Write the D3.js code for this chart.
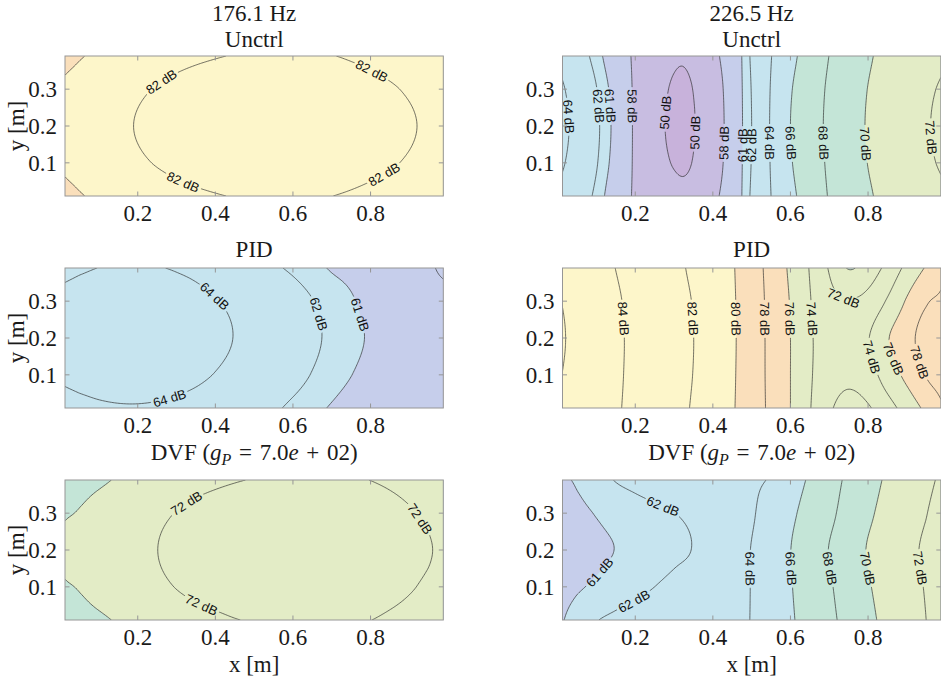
<!DOCTYPE html>
<html>
<head>
<meta charset="utf-8">
<script src="https://cdn.jsdelivr.net/npm/d3@7"></script>
<style>
  body { margin: 0; background: #fff; }
  .serif { font-family: "Liberation Serif", "Times New Roman", serif; font-size: 23px; fill: #1a1a1a; }
  .clabel { font-family: "Liberation Sans", Arial, sans-serif; font-size: 13px; fill: #111; }
</style>
</head>
<body>
<div id="chart"></div>
<script>
// Measurement grid: columns (x in m) and rows (y in m, top to bottom)
const xCols = [0.0125, 0.05, 0.10, 0.15, 0.20, 0.25, 0.30, 0.35, 0.40, 0.45, 0.50,
               0.55, 0.60, 0.65, 0.70, 0.75, 0.80, 0.85, 0.90, 0.95, 0.9875];
const yRows = [0.39, 0.3, 0.2, 0.1, 0.01];

// SPL maps in dB, one row per yRows entry
const unctrl176 = [
  [79.54, 79.89, 80.32, 80.71, 81.05, 81.34, 81.59, 81.78, 81.93, 82.05, 82.14, 82.18, 82.17, 82.12, 82.03, 81.88, 81.68, 81.43, 81.13, 80.80, 80.52],
  [80.28, 80.63, 81.06, 81.45, 81.79, 82.08, 82.33, 82.54, 82.70, 82.82, 82.89, 82.92, 82.90, 82.84, 82.73, 82.58, 82.38, 82.14, 81.85, 81.52, 81.24],
  [80.56, 80.92, 81.35, 81.73, 82.07, 82.37, 82.62, 82.82, 82.99, 83.10, 83.17, 83.20, 83.18, 83.12, 83.01, 82.86, 82.66, 82.42, 82.13, 81.80, 81.52],
  [80.28, 80.63, 81.06, 81.45, 81.79, 82.08, 82.33, 82.54, 82.70, 82.82, 82.89, 82.92, 82.90, 82.84, 82.73, 82.58, 82.38, 82.14, 81.85, 81.52, 81.24],
  [79.54, 79.89, 80.32, 80.71, 81.05, 81.34, 81.59, 81.78, 81.93, 82.05, 82.14, 82.18, 82.17, 82.12, 82.01, 81.86, 81.66, 81.42, 81.12, 80.80, 80.52]
];
const unctrl226 = [
  [63.50, 62.70, 61.50, 59.70, 57.30, 52.60, 50.40, 51.20, 56.80, 59.70, 62.20, 63.95, 65.50, 66.84, 68.02, 68.90, 69.80, 70.45, 70.95, 71.40, 71.70],
  [64.15, 63.26, 62.04, 60.24, 57.37, 51.80, 49.68, 50.12, 55.72, 59.63, 62.06, 64.09, 65.86, 67.10, 68.24, 69.16, 70.03, 70.63, 71.19, 71.73, 72.13],
  [64.40, 63.48, 62.25, 60.45, 57.40, 51.50, 49.40, 49.70, 55.30, 59.60, 62.00, 64.15, 66.00, 67.20, 68.33, 69.26, 70.12, 70.70, 71.28, 71.86, 72.29],
  [64.15, 63.28, 62.10, 60.27, 57.40, 51.92, 49.82, 50.23, 55.74, 59.63, 62.06, 64.10, 65.85, 67.10, 68.25, 69.17, 70.03, 70.63, 71.19, 71.73, 72.13],
  [63.50, 62.75, 61.70, 59.80, 57.40, 53.00, 50.90, 51.60, 56.90, 59.70, 62.20, 64.00, 65.55, 66.90, 68.10, 68.95, 69.80, 70.45, 70.95, 71.40, 71.70]
];
const pid176 = [
  [63.75, 63.88, 64.01, 64.08, 64.09, 64.04, 63.93, 63.76, 63.47, 63.13, 62.72, 62.20, 61.80, 61.35, 60.90, 60.70, 60.50, 60.35, 60.22, 60.08, 59.90],
  [64.28, 64.41, 64.54, 64.61, 64.62, 64.57, 64.46, 64.29, 64.06, 63.77, 63.41, 63.01, 62.56, 62.04, 61.55, 61.10, 60.70, 60.45, 60.28, 60.17, 60.17],
  [64.46, 64.59, 64.72, 64.79, 64.80, 64.75, 64.64, 64.47, 64.25, 63.97, 63.62, 63.22, 62.77, 62.25, 61.75, 61.30, 60.88, 60.60, 60.40, 60.25, 60.18],
  [64.19, 64.32, 64.45, 64.52, 64.53, 64.48, 64.37, 64.20, 63.96, 63.67, 63.31, 62.91, 62.46, 61.94, 61.45, 61.02, 60.65, 60.42, 60.27, 60.15, 60.10],
  [63.58, 63.71, 63.84, 63.91, 63.92, 63.87, 63.76, 63.59, 63.33, 63.02, 62.62, 62.20, 61.75, 61.30, 60.90, 60.55, 60.30, 60.20, 60.12, 60.08, 60.05]
];
const pid226 = [
  [85.60, 85.20, 84.57, 83.98, 83.44, 82.90, 82.36, 81.73, 80.94, 80.14, 78.86, 77.37, 75.68, 73.90, 71.85, 69.90, 70.90, 72.54, 74.50, 76.17, 77.50],
  [85.96, 85.50, 84.84, 84.19, 83.61, 83.06, 82.50, 81.93, 81.07, 80.20, 78.94, 77.49, 75.90, 74.10, 72.60, 72.10, 72.60, 74.20, 76.20, 77.80, 78.30],
  [86.10, 85.62, 84.95, 84.27, 83.67, 83.12, 82.56, 82.01, 81.12, 80.23, 78.97, 77.54, 76.00, 74.21, 73.30, 72.90, 73.90, 75.85, 77.33, 78.80, 79.60],
  [85.98, 85.50, 84.88, 84.24, 83.65, 83.10, 82.53, 81.97, 81.10, 80.20, 78.96, 77.55, 76.00, 74.20, 73.00, 72.50, 73.20, 74.90, 76.50, 78.10, 78.80],
  [85.70, 85.25, 84.72, 84.17, 83.60, 83.04, 82.47, 81.86, 81.00, 80.15, 78.95, 77.59, 76.00, 74.10, 72.30, 71.20, 71.80, 73.25, 74.79, 76.43, 77.70]
];
const dvf176 = [
  [69.04, 69.43, 69.75, 70.15, 70.60, 71.00, 71.35, 71.60, 71.78, 71.93, 72.05, 72.14, 72.19, 72.20, 72.17, 72.10, 71.99, 71.83, 71.62, 71.35, 71.12],
  [69.90, 70.09, 70.57, 71.00, 71.39, 71.74, 72.04, 72.29, 72.50, 72.67, 72.78, 72.86, 72.89, 72.87, 72.81, 72.70, 72.55, 72.35, 72.10, 71.82, 71.57],
  [70.15, 70.40, 70.82, 71.26, 71.65, 71.99, 72.29, 72.55, 72.76, 72.92, 73.04, 73.11, 73.14, 73.12, 73.06, 72.95, 72.80, 72.60, 72.36, 72.07, 71.82],
  [69.90, 70.09, 70.57, 71.00, 71.39, 71.74, 72.04, 72.29, 72.50, 72.67, 72.78, 72.86, 72.89, 72.87, 72.81, 72.70, 72.55, 72.35, 72.10, 71.82, 71.57],
  [69.04, 69.43, 69.75, 70.15, 70.60, 71.00, 71.35, 71.60, 71.78, 71.96, 72.08, 72.16, 72.20, 72.21, 72.18, 72.11, 72.01, 71.83, 71.62, 71.35, 71.12]
];
const dvf226 = [
  [60.90, 61.10, 61.60, 62.05, 62.30, 62.55, 62.80, 63.05, 63.30, 63.55, 63.80, 64.15, 65.30, 66.20, 67.28, 68.35, 69.33, 70.24, 70.94, 71.65, 72.20],
  [60.65, 60.80, 61.05, 61.35, 61.60, 61.80, 61.98, 62.30, 63.00, 63.60, 63.85, 64.80, 65.70, 66.60, 67.60, 68.70, 69.70, 70.55, 71.20, 71.95, 72.50],
  [60.50, 60.65, 60.83, 61.02, 61.28, 61.54, 61.80, 62.05, 62.75, 63.40, 64.05, 65.00, 65.98, 67.00, 68.05, 69.10, 70.10, 70.85, 71.55, 72.25, 72.75],
  [60.70, 60.90, 61.15, 61.45, 61.70, 62.00, 62.30, 62.60, 63.05, 63.55, 64.05, 65.00, 65.90, 66.85, 67.80, 68.85, 69.85, 70.65, 71.40, 72.10, 72.65],
  [60.95, 61.40, 61.95, 62.24, 62.50, 62.76, 63.02, 63.28, 63.54, 63.80, 64.05, 65.00, 65.80, 66.70, 67.60, 68.60, 69.60, 70.46, 71.25, 72.00, 72.60]
];

// Contour line levels per map
const levelsUnctrl176 = [80, 82];
const levelsUnctrl226 = [50, 58, 61, 62, 64, 66, 68, 70, 72];
const levelsPid176 = [60, 61, 62, 64];
const levelsPid226 = [70, 72, 74, 76, 78, 80, 82, 84, 86];
const levelsDvf176 = [70, 72];
const levelsDvf226 = [61, 62, 64, 66, 68, 70, 72];

// Inline labels: [level, x, y]
const labelsUnctrl176 = [[82, 0.267, 0.311], [82, 0.802, 0.347], [82, 0.317, 0.048], [82, 0.836, 0.067]];
const labelsUnctrl226 = [[64, 0.026, 0.225], [62, 0.106, 0.254], [61, 0.131, 0.254], [58, 0.193, 0.254],
  [50, 0.282, 0.236], [50, 0.353, 0.182], [58, 0.426, 0.154], [61, 0.477, 0.148], [62, 0.501, 0.148],
  [64, 0.544, 0.154], [66, 0.600, 0.154], [68, 0.682, 0.154], [70, 0.790, 0.151], [72, 0.953, 0.168]];
const labelsPid176 = [[64, 0.392, 0.307], [64, 0.284, 0.030], [62, 0.651, 0.261], [61, 0.765, 0.261]];
const labelsPid226 = [[84, 0.164, 0.252], [82, 0.341, 0.252], [80, 0.458, 0.252], [78, 0.538, 0.252],
  [76, 0.602, 0.252], [74, 0.660, 0.252], [72, 0.736, 0.307], [74, 0.807, 0.148], [76, 0.866, 0.144], [78, 0.936, 0.135]];
const labelsDvf176 = [[72, 0.332, 0.317], [72, 0.366, 0.055], [72, 0.929, 0.286]];
const labelsDvf226 = [[62, 0.276, 0.331], [61, 0.113, 0.135], [62, 0.195, 0.064], [64, 0.492, 0.149],
  [66, 0.596, 0.149], [68, 0.695, 0.149], [70, 0.794, 0.149], [72, 0.923, 0.149]];

// Filled colour bands: lower edges and colours (first colour is below the first edge)
const bandEdges = [50, 58, 61, 66, 70, 76, 80];
const bandColors = ["#c8b2db", "#c8bde1", "#c6ceeb", "#c6e4ef", "#c4e5d7", "#e3ecc6", "#fadfbb", "#fdf6ca"];

const freqTitles = ["176.1 Hz", "226.5 Hz"];
const ctrlTitles = ["Unctrl", "PID", "DVF"];
const xTicks = [0.2, 0.4, 0.6, 0.8];
const yTicks = [0.1, 0.2, 0.3];

const panels = [
  {col: 0, row: 0, grid: unctrl176, levels: levelsUnctrl176, labels: labelsUnctrl176},
  {col: 1, row: 0, grid: unctrl226, levels: levelsUnctrl226, labels: labelsUnctrl226},
  {col: 0, row: 1, grid: pid176, levels: levelsPid176, labels: labelsPid176},
  {col: 1, row: 1, grid: pid226, levels: levelsPid226, labels: labelsPid226},
  {col: 0, row: 2, grid: dvf176, levels: levelsDvf176, labels: labelsDvf176},
  {col: 1, row: 2, grid: dvf226, levels: levelsDvf226, labels: labelsDvf226}
];

// Layout
const width = 941, height = 681;
const colX = [65, 562.5];
const rowY = [56, 268, 480];
const panelW = 378.3, panelH = 140;
const titleY = [46.5, 256.5, 460];

const svg = d3.select("#chart").append("svg")
    .attr("width", width).attr("height", height)
    .style("font-kerning", "normal");

const x = d3.scaleLinear().domain([0.0125, 0.9875]).range([0, panelW]);
const y = d3.scaleLinear().domain([0.01, 0.39]).range([panelH, 0]);

function fracIndex(arr, v) {
  const n = arr.length;
  const asc = arr[n - 1] > arr[0];
  for (let k = 0; k < n - 1; k++) {
    const a = arr[k], b = arr[k + 1];
    if ((asc && v <= b) || (!asc && v >= b)) return k + Math.max(0, (v - a) / (b - a));
  }
  return n - 1;
}

function catmull(p0, p1, p2, p3, t) {
  return p1 + 0.5 * t * (p2 - p0 + t * (2 * p0 - 5 * p1 + 4 * p2 - p3 + t * (3 * (p1 - p2) + p3 - p0)));
}

// smooth bicubic reading of a measurement grid
function fieldOf(grid) {
  const ny = grid.length, nx = grid[0].length;
  function val(j, i) {
    if (j < 0) return 2 * val(0, i) - val(1, i);
    if (j >= ny) return 2 * val(ny - 1, i) - val(ny - 2, i);
    const r = grid[j];
    if (i < 0) return 2 * r[0] - r[1];
    if (i >= nx) return 2 * r[nx - 1] - r[nx - 2];
    return r[i];
  }
  return function(xv, yv) {
    const u = fracIndex(xCols, xv), v = fracIndex(yRows, yv);
    const i = Math.min(Math.floor(u), nx - 2), j = Math.min(Math.floor(v), ny - 2);
    const tx = u - i, ty = v - j;
    const r = [-1, 0, 1, 2].map(m => catmull(val(j + m, i - 1), val(j + m, i), val(j + m, i + 1), val(j + m, i + 2), tx));
    return catmull(r[0], r[1], r[2], r[3], ty);
  };
}

const NX = 253, NY = 95, P = 3;
const sx = panelW / (NX - 1), sy = panelH / (NY - 1);
const gw = NX + 2 * P, gh = NY + 2 * P;
const path = d3.geoPath(d3.geoTransform({
  point(px, py) { this.stream.point((px - 0.5 - P) * sx, (py - 0.5 - P) * sy); }
}));

panels.forEach((p, k) => {
  const field = fieldOf(p.grid);
  const g = svg.append("g").attr("transform", `translate(${colX[p.col]},${rowY[p.row]})`);

  // sample field on a fine padded lattice
  const inner = new Float64Array(NX * NY);
  for (let j = 0; j < NY; j++)
    for (let i = 0; i < NX; i++)
      inner[j * NX + i] = field(x.invert(i * sx), y.invert(j * sy));
  const values = new Float64Array(gw * gh);
  for (let j = 0; j < gh; j++) {
    for (let i = 0; i < gw; i++) {
      if (i === 0 || j === 0 || i === gw - 1 || j === gh - 1) { values[j * gw + i] = -1e9; continue; }
      const ii = Math.max(0, Math.min(NX - 1, i - P)), jj = Math.max(0, Math.min(NY - 1, j - P));
      values[j * gw + i] = inner[jj * NX + ii];
    }
  }

  const clipId = `clip${k}`, maskId = `mask${k}`;
  const defs = g.append("defs");
  defs.append("clipPath").attr("id", clipId)
    .append("rect").attr("width", panelW).attr("height", panelH);

  const body = g.append("g").attr("clip-path", `url(#${clipId})`);
  body.append("rect").attr("width", panelW).attr("height", panelH).attr("fill", bandColors[0]);

  const bands = d3.contours().size([gw, gh]).thresholds(bandEdges)(values);
  body.append("g").selectAll("path").data(bands).join("path")
    .attr("d", path)
    .attr("fill", (d, i) => bandColors[i + 1]);

  // labels: snap onto the level line and align with it
  const F = (px, py) => field(x.invert(px), y.invert(py));
  const labelData = p.labels.map(([lev, lx, ly]) => {
    let px = x(lx), py = y(ly);
    const h = 0.5;
    let gx = 0, gy = 0;
    for (let it = 0; it < 8; it++) {
      gx = (F(px + h, py) - F(px - h, py)) / (2 * h);
      gy = (F(px, py + h) - F(px, py - h)) / (2 * h);
      const g2 = gx * gx + gy * gy;
      if (g2 < 1e-12) break;
      let d = (lev - F(px, py)) / g2;
      let dx = d * gx, dy = d * gy;
      const len = Math.hypot(dx, dy);
      if (len > 6) { dx *= 6 / len; dy *= 6 / len; }
      px += dx; py += dy;
    }
    let ang = Math.atan2(-gx, gy) * 180 / Math.PI;
    while (ang > 90) ang -= 180;
    while (ang <= -90) ang += 180;
    return {lev, px, py, ang};
  });

  const mask = defs.append("mask").attr("id", maskId)
    .attr("maskUnits", "userSpaceOnUse")
    .attr("x", -20).attr("y", -20).attr("width", panelW + 40).attr("height", panelH + 40);
  mask.append("rect").attr("x", -20).attr("y", -20)
    .attr("width", panelW + 40).attr("height", panelH + 40).attr("fill", "#fff");

  const lines = d3.contours().size([gw, gh]).thresholds(p.levels)(values);
  body.append("g").attr("mask", `url(#${maskId})`)
    .selectAll("path").data(lines).join("path")
    .attr("d", path)
    .attr("fill", "none")
    .attr("stroke", "#262626")
    .attr("stroke-width", 0.65);

  const texts = g.append("g").selectAll("text").data(labelData).join("text")
    .attr("class", "clabel")
    .attr("transform", d => `translate(${d.px},${d.py}) rotate(${d.ang})`)
    .attr("text-anchor", "middle")
    .attr("dy", "0.36em")
    .text(d => `${d.lev} dB`);
  texts.each(function(d) {
    const len = this.getComputedTextLength();
    mask.append("rect")
      .attr("transform", `translate(${d.px},${d.py}) rotate(${d.ang})`)
      .attr("x", -len / 2 - 2).attr("y", -5.5)
      .attr("width", len + 4).attr("height", 11)
      .attr("fill", "#000");
  });

  // axes box with inward ticks on all sides
  const axisColor = "#969696";
  const ax = g.append("g").attr("stroke", axisColor).attr("stroke-width", 1);
  xTicks.forEach(t => {
    ax.append("line").attr("x1", x(t)).attr("x2", x(t)).attr("y1", panelH).attr("y2", panelH - 4.5);
    ax.append("line").attr("x1", x(t)).attr("x2", x(t)).attr("y1", 0).attr("y2", 4.5);
  });
  yTicks.forEach(t => {
    ax.append("line").attr("y1", y(t)).attr("y2", y(t)).attr("x1", 0).attr("x2", 4.5);
    ax.append("line").attr("y1", y(t)).attr("y2", y(t)).attr("x1", panelW).attr("x2", panelW - 4.5);
  });
  ax.append("rect").attr("width", panelW).attr("height", panelH).attr("fill", "none");

  g.append("g").selectAll("text").data(xTicks).join("text")
    .attr("class", "serif")
    .attr("x", d => x(d)).attr("y", panelH + 25)
    .attr("text-anchor", "middle")
    .text(d => d.toFixed(1));
  g.append("g").selectAll("text").data(yTicks).join("text")
    .attr("class", "serif")
    .attr("x", -8).attr("y", d => y(d)).attr("dy", "0.34em")
    .attr("text-anchor", "end")
    .text(d => d.toFixed(1));

  if (p.col === 0) {
    g.append("text").attr("class", "serif")
      .attr("transform", `translate(${23.5 - colX[0]},${panelH / 2}) rotate(-90)`)
      .attr("text-anchor", "middle")
      .text("y [m]");
  }
  if (p.row === 2) {
    g.append("text").attr("class", "serif")
      .attr("x", panelW / 2).attr("y", 671.5 - rowY[2])
      .attr("text-anchor", "middle")
      .text("x [m]");
  }
});

// titles
[0, 1].forEach(c => {
  const cx = colX[c] + panelW / 2;
  svg.append("text").attr("class", "serif").attr("x", cx).attr("y", 20.5)
    .attr("text-anchor", "middle").text(freqTitles[c]);
  ctrlTitles.forEach((t, r) => {
    const tt = svg.append("text").attr("class", "serif").attr("x", cx).attr("y", titleY[r])
      .attr("text-anchor", "middle");
    if (t !== "DVF") { tt.text(t); return; }
    tt.append("tspan").text("DVF (");
    tt.append("tspan").style("font-style", "italic").text("g");
    tt.append("tspan").style("font-style", "italic").style("font-size", "16px").attr("dy", 5).text("P");
    tt.append("tspan").attr("dy", -5).text("\u2004=\u20047.0");
    tt.append("tspan").style("font-style", "italic").text("e");
    tt.append("tspan").text("\u2004+\u200402)");
  });
});
</script>
</body>
</html>
